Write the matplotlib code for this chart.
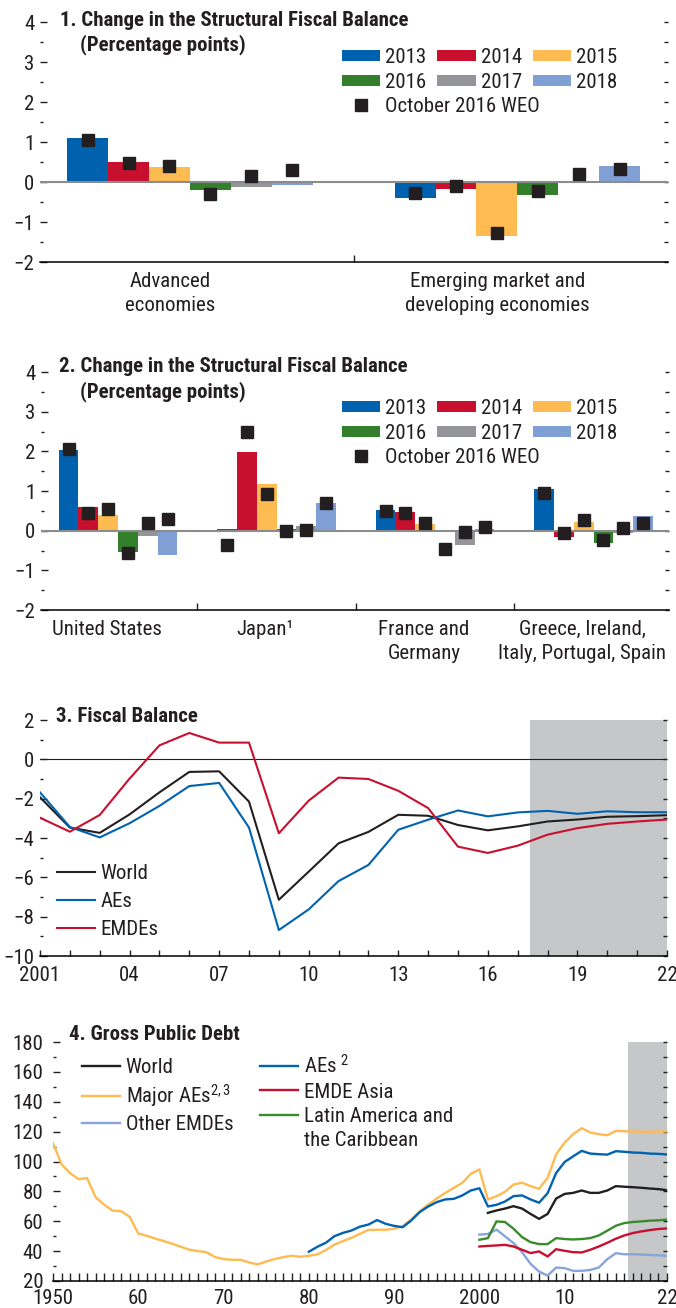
import matplotlib
matplotlib.use('Agg')
import matplotlib.pyplot as plt
from matplotlib.lines import Line2D
import numpy as np

plt.rcParams['font.family'] = ['Roboto Condensed', 'DejaVu Sans']
plt.rcParams['font.size'] = 15
plt.rcParams['mathtext.fontset'] = 'custom'
plt.rcParams['mathtext.rm'] = 'Roboto Condensed'
plt.rcParams['mathtext.it'] = 'Roboto Condensed'
plt.rcParams['text.color'] = '#231f20'
plt.rcParams['xtick.color'] = '#231f20'
plt.rcParams['ytick.color'] = '#231f20'

W, H = 676, 1308

# --- panels 1 and 2: change in the structural fiscal balance
bar_years = ['2013', '2014', '2015', '2016', '2017', '2018']
bar_colors = ['#0061af', '#c8102e', '#fdbb51', '#347f2c', '#939598', '#7f9fd5']

p1_groups = ['Advanced\neconomies', 'Emerging market and\ndeveloping economies']
p1_adv = [1.10, 0.50, 0.37, -0.20, -0.12, -0.07]
p1_emde = [-0.40, -0.18, -1.36, -0.33, -0.03, 0.41]
p1_weo_adv = [1.04, 0.48, 0.41, -0.29, 0.15, 0.30]
p1_weo_emde = [-0.27, -0.10, -1.28, -0.23, 0.19, 0.33]

p2_groups = ['United States', 'Japan¹', 'France and\nGermany',
             'Greece, Ireland,\nItaly, Portugal, Spain']
p2_us = [2.03, 0.59, 0.39, -0.53, -0.13, -0.61]
p2_jp = [0.05, 1.98, 1.17, 0.05, 0.11, 0.69]
p2_fg = [0.52, 0.47, 0.17, -0.01, -0.36, 0.04]
p2_gi = [1.04, -0.16, 0.21, -0.31, -0.07, 0.37]
p2_weo_us = [2.05, 0.44, 0.54, -0.57, 0.19, 0.29]
p2_weo_jp = [-0.36, 2.48, 0.92, -0.02, 0.01, 0.69]
p2_weo_fg = [0.50, 0.45, 0.20, -0.47, -0.04, 0.10]
p2_weo_gi = [0.95, -0.05, 0.26, -0.24, 0.06, 0.20]

# --- panel 3: fiscal balance
fb_years = list(range(2001, 2023))
fb_world = [-1.93, -3.47, -3.74, -2.80, -1.68, -0.64, -0.61, -2.15, -7.14, -5.71, -4.27,
            -3.69, -2.82, -2.87, -3.34, -3.61, -3.41, -3.16, -3.06, -2.92, -2.89, -2.84]
fb_aes = [-1.68, -3.44, -3.97, -3.25, -2.37, -1.36, -1.20, -3.47, -8.68, -7.63, -6.19,
          -5.37, -3.58, -3.07, -2.60, -2.90, -2.70, -2.62, -2.77, -2.64, -2.69, -2.69]
fb_emdes = [-2.97, -3.68, -2.83, -0.98, 0.71, 1.34, 0.85, 0.85, -3.76, -2.10, -0.93,
            -1.00, -1.60, -2.48, -4.44, -4.76, -4.39, -3.83, -3.50, -3.28, -3.16, -3.06]

# --- panel 4: gross public debt
major_years = list(range(1950, 2023))
major_aes = [112.2, 98.2, 92.2, 88.2, 88.9, 76.0, 71.1, 67.1, 66.7, 62.9,
             51.8, 50.2, 48.4, 46.7, 44.9, 42.9, 40.9, 40.0, 39.3, 36.0,
             34.7, 34.2, 34.2, 32.4, 31.1, 33.1, 34.7, 36.0, 36.9, 36.2,
             36.9, 37.8, 40.7, 44.4, 46.7, 48.9, 51.6, 54.2, 54.3, 54.3,
             55.0, 56.6, 61.1, 66.7, 71.2, 75.2, 79.0, 82.4, 85.7, 91.8,
             94.7, 74.5, 76.8, 79.7, 84.6, 85.8, 83.5, 81.7, 89.1, 104.8,
             112.7, 118.3, 122.3, 119.4, 118.3, 117.6, 120.5, 120.3, 120.1, 119.9,
             119.9, 120.1, 120.1]
aes_years = list(range(1980, 2023))
aes_debt = [39.6, 42.9, 45.6, 50.0, 52.2, 53.8, 56.4, 57.8, 60.8, 58.3,
            56.9, 56.0, 60.5, 66.1, 69.9, 72.8, 74.6, 75.0, 77.3, 80.6,
            82.1, 69.9, 71.0, 73.2, 76.8, 77.3, 74.6, 72.4, 78.8, 92.3,
            99.7, 103.5, 107.1, 105.3, 104.9, 104.6, 106.9, 106.5, 106.0, 105.8,
            105.3, 105.1, 104.7]
world_years = list(range(2001, 2023))
world_debt = [65.6, 67.2, 68.5, 70.1, 68.5, 64.9, 61.6, 64.9, 75.2, 78.3, 79.0,
              80.6, 79.0, 79.0, 80.6, 83.5, 83.1, 82.8, 82.4, 81.9, 81.5, 80.8]
emde_years = list(range(2000, 2023))
asia_debt = [43.1, 43.5, 43.8, 44.2, 43.1, 40.9, 38.7, 39.8, 36.4, 41.3, 40.2, 39.3,
             39.1, 40.9, 43.1, 45.6, 48.3, 50.5, 52.1, 53.2, 54.1, 54.8, 55.2]
lac_debt = [47.6, 48.7, 59.9, 59.5, 55.0, 49.4, 46.0, 44.7, 44.7, 48.7, 48.1, 47.8,
            48.1, 48.7, 50.5, 53.7, 57.0, 58.8, 59.5, 59.9, 60.4, 60.6, 61.1]
other_debt = [51.0, 51.5, 54.4, 49.9, 45.4, 39.3, 31.5, 26.3, 23.6, 29.0, 28.6, 26.8,
              26.8, 27.4, 29.0, 34.6, 38.6, 37.9, 37.9, 37.7, 37.4, 37.2, 36.8]

DARK = '#231f20'
SHADE = '#c6c7c9'


def box(l, t, r, b):
    return [l / W, 1 - b / H, (r - l) / W, (b - t) / H]


def fx(x):
    return x / W


def fy(y):
    return 1 - y / H


def style_y(ax, major, minor, right, pad=4):
    for s in ['left', 'right', 'top']:
        ax.spines[s].set_visible(False)
    ax.spines['bottom'].set_linewidth(1.1)
    ax.set_yticks(major)
    ax.set_yticks(minor, minor=True)
    ax.tick_params(axis='y', which='major', direction='in', length=5, width=1, pad=pad)
    ax.tick_params(axis='y', which='minor', direction='in', length=2.2, width=1)
    sec = ax.secondary_yaxis('right')
    sec.set_yticks(right)
    sec.tick_params(direction='in', length=3, width=1, labelright=False)
    for s in sec.spines.values():
        s.set_visible(False)


fig = plt.figure(figsize=(W / 100, H / 100), dpi=100)

bw = 0.125
leg_kw = dict(frameon=False, handlelength=1.83, handleheight=0.48, handletextpad=0.24,
              columnspacing=0.53, labelspacing=0.29, borderpad=0, borderaxespad=0)


def bar_panel(ax, groups, vals, weos, shift, top):
    xs = np.arange(len(groups))
    for j, year in enumerate(bar_years):
        ax.bar(xs + (j - 2.5) * bw, [v[j] for v in vals], bw, color=bar_colors[j],
               label=year, zorder=2)
    ax.axhline(0, color='#8a8c8e', lw=1.5, zorder=2.5)
    for i, w in enumerate(weos):
        ax.plot(i + (np.arange(6) - 2.5) * bw, w, 's', color=DARK, markersize=8,
                zorder=3)
    ax.set_ylim(-2, 4)
    style_y(ax, np.arange(-2, 5, 1), np.arange(-1.5, 4, 1), np.arange(-2, 4.01, 0.5))
    ax.set_xticks(xs - shift, groups)
    ax.set_xticks(xs[:-1] + 0.5, minor=True)
    ax.tick_params(axis='x', which='major', length=0, pad=7)
    ax.tick_params(axis='x', which='minor', direction='in', length=5, width=1)
    for lab in ax.get_xticklabels():
        lab.set_linespacing(1.35)
    hs, ls = ax.get_legend_handles_labels()
    order = [0, 3, 1, 4, 2, 5]
    fig.legend([hs[k] for k in order], [ls[k] for k in order], loc='upper left',
               bbox_to_anchor=(fx(342), fy(top)), ncol=3, **leg_kw)
    weo = Line2D([], [], marker='s', ls='none', color=DARK, markersize=8)
    fig.legend([weo], ['October 2016 WEO'], loc='upper left',
               bbox_to_anchor=(fx(342), fy(top + 49)), **leg_kw)


# panel 1
ax1 = fig.add_axes(box(40, 22, 668, 262))
bar_panel(ax1, p1_groups, [p1_adv, p1_emde], [p1_weo_adv, p1_weo_emde], 0.06, 48)
ax1.set_xlim(-0.458, 1.46)
fig.text(fx(60), fy(21), '1. Change in the Structural Fiscal Balance',
         fontweight='bold', va='center')
fig.text(fx(80), fy(45), '(Percentage points)', fontweight='bold', va='center')

# panel 2
ax2 = fig.add_axes(box(41, 372, 669, 610))
bar_panel(ax2, p2_groups, [p2_us, p2_jp, p2_fg, p2_gi],
          [p2_weo_us, p2_weo_jp, p2_weo_fg, p2_weo_gi], 0.07, 399)
ax2.set_xlim(-0.486, 3.476)
fig.text(fx(59), fy(367), '2. Change in the Structural Fiscal Balance',
         fontweight='bold', va='center')
fig.text(fx(80), fy(392), '(Percentage points)', fontweight='bold', va='center')

# panel 3
ax3 = fig.add_axes(box(40, 720, 667, 956))
ax3.axvspan(2017.4, 2022, color=SHADE, lw=0, zorder=0)
ax3.axhline(0, color=DARK, lw=0.8, zorder=1)
ax3.plot(fb_years, fb_world, color=DARK, lw=1.5, label='World', zorder=3)
ax3.plot(fb_years, fb_aes, color='#0063b0', lw=1.5, label='AEs', zorder=3)
ax3.plot(fb_years, fb_emdes, color='#c8102e', lw=1.5, label='EMDEs', zorder=3)
ax3.set_xlim(2001, 2022)
ax3.set_ylim(-10, 2)
style_y(ax3, np.arange(-10, 3, 2), np.arange(-9, 2, 2), np.arange(-10, 3, 1))
ax3.set_xticks(fb_years[::3], ['2001', '04', '07', '10', '13', '16', '19', '22'])
ax3.set_xticks(fb_years, minor=True)
ax3.tick_params(axis='x', which='both', direction='in', length=4.5, width=1, pad=7)
fig.legend(*ax3.get_legend_handles_labels(), loc='upper left',
           bbox_to_anchor=(fx(57), fy(864)), frameon=False, handlelength=1.83,
           handletextpad=0.24, labelspacing=0.43, borderpad=0, borderaxespad=0)
fig.text(fx(56), fy(717), '3. Fiscal Balance', fontweight='bold', va='center')

# panel 4
ax4 = fig.add_axes(box(53, 1042, 667, 1281))
ax4.axvspan(2017.4, 2022, color=SHADE, lw=0, zorder=0)
l_world, = ax4.plot(world_years, world_debt, color=DARK, lw=1.7)
l_major, = ax4.plot(major_years, major_aes, color='#fdbb51', lw=1.7)
l_other, = ax4.plot(emde_years, other_debt, color='#87a5dc', lw=1.7)
l_aes, = ax4.plot(aes_years, aes_debt, color='#0063b0', lw=1.7)
l_asia, = ax4.plot(emde_years, asia_debt, color='#c8102e', lw=1.7)
l_lac, = ax4.plot(emde_years, lac_debt, color='#3a8b2c', lw=1.7)
ax4.set_xlim(1950, 2022)
ax4.set_ylim(20, 180)
style_y(ax4, np.arange(20, 181, 20), np.arange(30, 180, 20), np.arange(20, 181, 10),
        pad=7)
ax4.set_xticks([1950, 1960, 1970, 1980, 1990, 2000, 2010, 2022],
               ['1950', '60', '70', '80', '90', '2000', '10', '22'])
ax4.set_xticks(major_years, minor=True)
ax4.tick_params(axis='x', which='both', direction='in', length=5.5, width=1, pad=5.5)
blank = Line2D([], [], color='none')
fig.legend([l_world, l_major, l_other, blank, l_aes, l_asia, l_lac, blank],
           ['World', 'Major AEs$^{2,3}$', 'Other EMDEs', '', 'AEs $^{2}$', 'EMDE Asia',
            'Latin America and', 'the Caribbean'],
           ncol=2, loc='upper left', bbox_to_anchor=(fx(82), fy(1054)), frameon=False,
           handlelength=1.8, handletextpad=0.3, columnspacing=1.28, labelspacing=0.26,
           borderpad=0, borderaxespad=0)
fig.text(fx(69), fy(1035), '4. Gross Public Debt', fontweight='bold', va='center')

fig.savefig('out.png', dpi=100)
